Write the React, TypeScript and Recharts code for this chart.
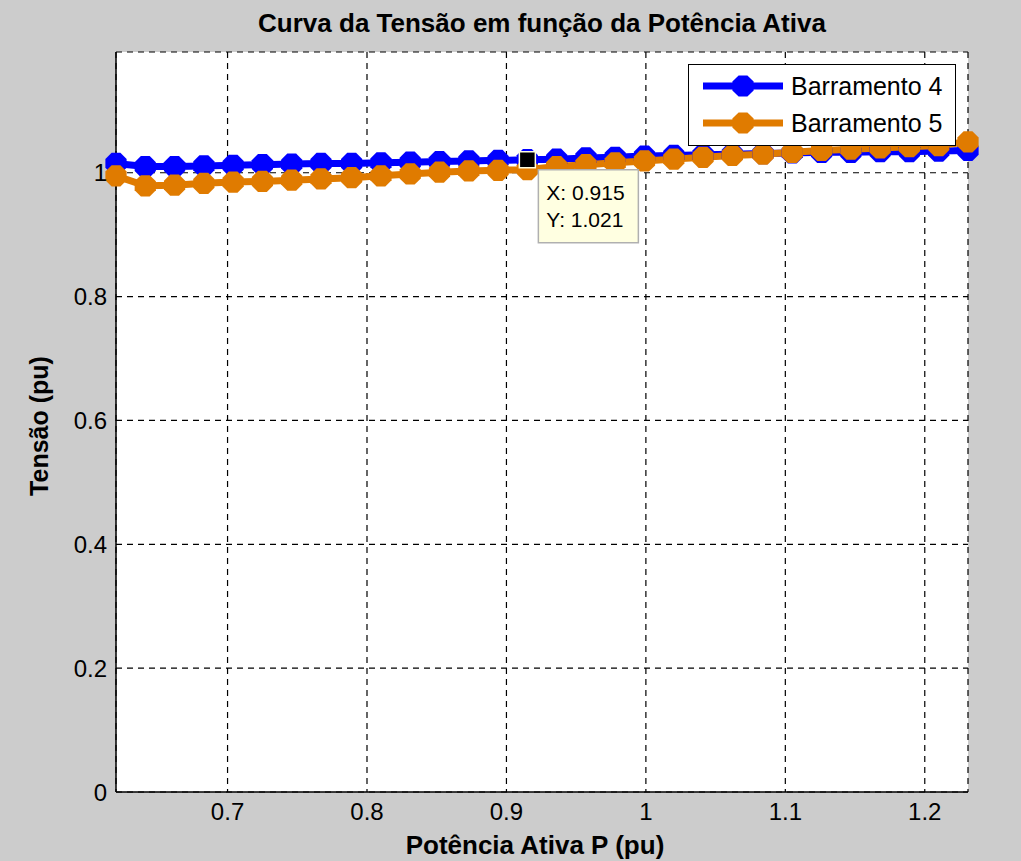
import React from 'react';
import { ComposedChart, Line, Scatter, XAxis, YAxis, CartesianGrid, Legend } from 'recharts';

const potencia = [0.620, 0.641, 0.662, 0.683, 0.704, 0.725, 0.746, 0.767, 0.789, 0.810, 0.831, 0.852, 0.873, 0.894, 0.915, 0.936, 0.957, 0.978, 0.999, 1.020, 1.041, 1.062, 1.084, 1.105, 1.126, 1.147, 1.168, 1.189, 1.210, 1.231];
const barramento4 = [1.015, 1.010, 1.010, 1.011, 1.012, 1.013, 1.014, 1.015, 1.015, 1.016, 1.017, 1.018, 1.019, 1.020, 1.021, 1.022, 1.024, 1.025, 1.027, 1.028, 1.029, 1.030, 1.031, 1.032, 1.033, 1.033, 1.034, 1.034, 1.035, 1.036];
const barramento5 = [0.995, 0.979, 0.980, 0.983, 0.985, 0.986, 0.988, 0.990, 0.992, 0.995, 0.998, 1.001, 1.003, 1.004, 1.005, 1.010, 1.013, 1.016, 1.019, 1.022, 1.025, 1.028, 1.030, 1.033, 1.036, 1.038, 1.040, 1.042, 1.044, 1.050];
const xTicks = [0.7, 0.8, 0.9, 1, 1.1, 1.2];
const yTicks = [0, 0.2, 0.4, 0.6, 0.8, 1];
const xDomain = [0.62, 1.231];
const yDomain = [0, 1.195];
const dataTip = { x: 0.915, y: 1.021 };
const seriesNames = ['Barramento 4', 'Barramento 5'];
const seriesColors = ['#0000ff', '#e07b00'];

const data = potencia.map((p, i) => ({ p, b4: barramento4[i], b5: barramento5[i] }));
const tipData = [{ p: dataTip.x, tip: dataTip.y }];

const FONT = '"Liberation Sans", Arial, Helvetica, sans-serif';

const octagonPath = (cx: number, cy: number, r: number) => {
  const pts: string[] = [];
  for (let k = 0; k < 8; k++) {
    const a = (Math.PI / 8) + (k * Math.PI) / 4;
    pts.push(`${(cx + r * Math.cos(a)).toFixed(2)},${(cy + r * Math.sin(a)).toFixed(2)}`);
  }
  return `M${pts.join('L')}Z`;
};

const makeDot = (color: string) => (props: any) => {
  const { cx, cy, index } = props;
  if (cx == null || cy == null) return <g key={`d-${index}`} />;
  return <path key={`d-${index}`} d={octagonPath(cx, cy, 11.5)} fill={color} />;
};

const DataTipShape = (props: any) => {
  const { cx, cy } = props;
  if (cx == null || cy == null) return <g />;
  return (
    <g>
      <rect x={cx - 8} y={cy - 8} width={16} height={16} fill="#000" stroke="#ffffe1" strokeWidth={1.5} />
      <rect x={cx + 11} y={cy + 10} width={100} height={73} fill="#ffffe1" stroke="#b0b0b0" strokeWidth={1.5} />
      <text x={cx + 19} y={cy + 40} fontSize={21} fontFamily={FONT} fill="#000">{`X: ${dataTip.x}`}</text>
      <text x={cx + 19} y={cy + 67} fontSize={21} fontFamily={FONT} fill="#000">{`Y: ${dataTip.y}`}</text>
    </g>
  );
};

const LegendBox = (props: any) => {
  const payload = ((props.payload || []) as any[]).filter((e: any) => seriesNames.includes(e.value));
  return (
    <div style={{ position: 'relative', width: 268, height: 82, boxSizing: 'border-box', background: '#fff', border: '1.5px solid #000' }}>
      {payload.map((e: any, i: number) => (
        <div key={i} style={{ position: 'absolute', left: 14, top: 6 + i * 37, height: 30, display: 'flex', alignItems: 'center' }}>
          <svg width={80} height={26} style={{ display: 'block' }}>
            <line x1={0} y1={13} x2={80} y2={13} stroke={e.color} strokeWidth={7} />
            <path d={octagonPath(40, 13, 11.5)} fill={e.color} />
          </svg>
          <span style={{ marginLeft: 8, fontSize: 25, fontFamily: FONT, color: '#000', lineHeight: '30px' }}>{e.value}</span>
        </div>
      ))}
    </div>
  );
};

const YLabel = (props: any) => {
  const vb = props.viewBox || {};
  const cx = vb.x - 8;
  const cy = vb.y + vb.height / 2 + 4;
  return (
    <text x={cx} y={cy} transform={`rotate(-90, ${cx}, ${cy})`} textAnchor="middle" fontSize={25} fontWeight="bold" fontFamily={FONT} fill="#000">
      Tensão (pu)
    </text>
  );
};

const XLabel = (props: any) => {
  const vb = props.viewBox || {};
  const cx = vb.x + vb.width / 2 - 7;
  const cy = vb.y + vb.height;
  return (
    <text x={cx} y={cy} textAnchor="middle" fontSize={26} fontWeight="bold" fontFamily={FONT} fill="#000">
      Potência Ativa P (pu)
    </text>
  );
};

export default function App() {
  return (
    <div style={{ position: 'absolute', left: 0, top: 0, width: 1021, height: 861, background: '#cccccc', overflow: 'hidden' }}>
      <div style={{ position: 'absolute', left: 116, top: 10, width: 852, textAlign: 'center', fontFamily: FONT, fontWeight: 'bold', fontSize: 26, lineHeight: '26px', color: '#000' }}>
        Curva da Tensão em função da Potência Ativa
      </div>
      <ComposedChart width={1021} height={861} data={data} margin={{ top: 52, right: 53, bottom: 7, left: 56 }}>
        <CartesianGrid fill="#ffffff" stroke="#000" strokeDasharray="6 5" strokeWidth={1.2} />
        <XAxis
          dataKey="p"
          type="number"
          domain={xDomain}
          ticks={xTicks}
          height={62}
          tickLine={false}
          tickMargin={5}
          axisLine={{ stroke: '#000', strokeWidth: 1.5 }}
          tick={{ fontSize: 24, fill: '#000', fontFamily: FONT }}
          label={<XLabel />}
        />
        <XAxis xAxisId="top" orientation="top" type="number" domain={xDomain} height={0} tick={false} tickLine={false} axisLine={{ stroke: '#000', strokeWidth: 1.5 }} />
        <YAxis
          type="number"
          domain={yDomain}
          ticks={yTicks}
          width={60}
          tickLine={false}
          tickMargin={3}
          axisLine={{ stroke: '#000', strokeWidth: 1.5 }}
          tick={{ fontSize: 24, fill: '#000', fontFamily: FONT }}
          label={<YLabel />}
        />
        <YAxis yAxisId="right" orientation="right" type="number" domain={yDomain} width={0} tick={false} tickLine={false} axisLine={{ stroke: '#000', strokeWidth: 1.5 }} />
        <Line
          dataKey="b4"
          name={seriesNames[0]}
          stroke={seriesColors[0]}
          strokeWidth={7}
          dot={makeDot(seriesColors[0])}
          activeDot={false}
          isAnimationActive={false}
          {...({ zIndex: 550 } as any)}
        />
        <Line
          dataKey="b5"
          name={seriesNames[1]}
          stroke={seriesColors[1]}
          strokeWidth={7}
          dot={makeDot(seriesColors[1])}
          activeDot={false}
          isAnimationActive={false}
          {...({ zIndex: 560 } as any)}
        />
        <Scatter
          data={tipData}
          dataKey="tip"
          name="datatip"
          legendType="none"
          shape={<DataTipShape />}
          isAnimationActive={false}
          {...({ zIndex: 2000 } as any)}
        />
        <Legend
          layout="vertical"
          align="center"
          verticalAlign="middle"
          content={<LegendBox />}
          wrapperStyle={{ top: 64, left: 688, width: 268, height: 82 }}
        />
      </ComposedChart>
    </div>
  );
}
